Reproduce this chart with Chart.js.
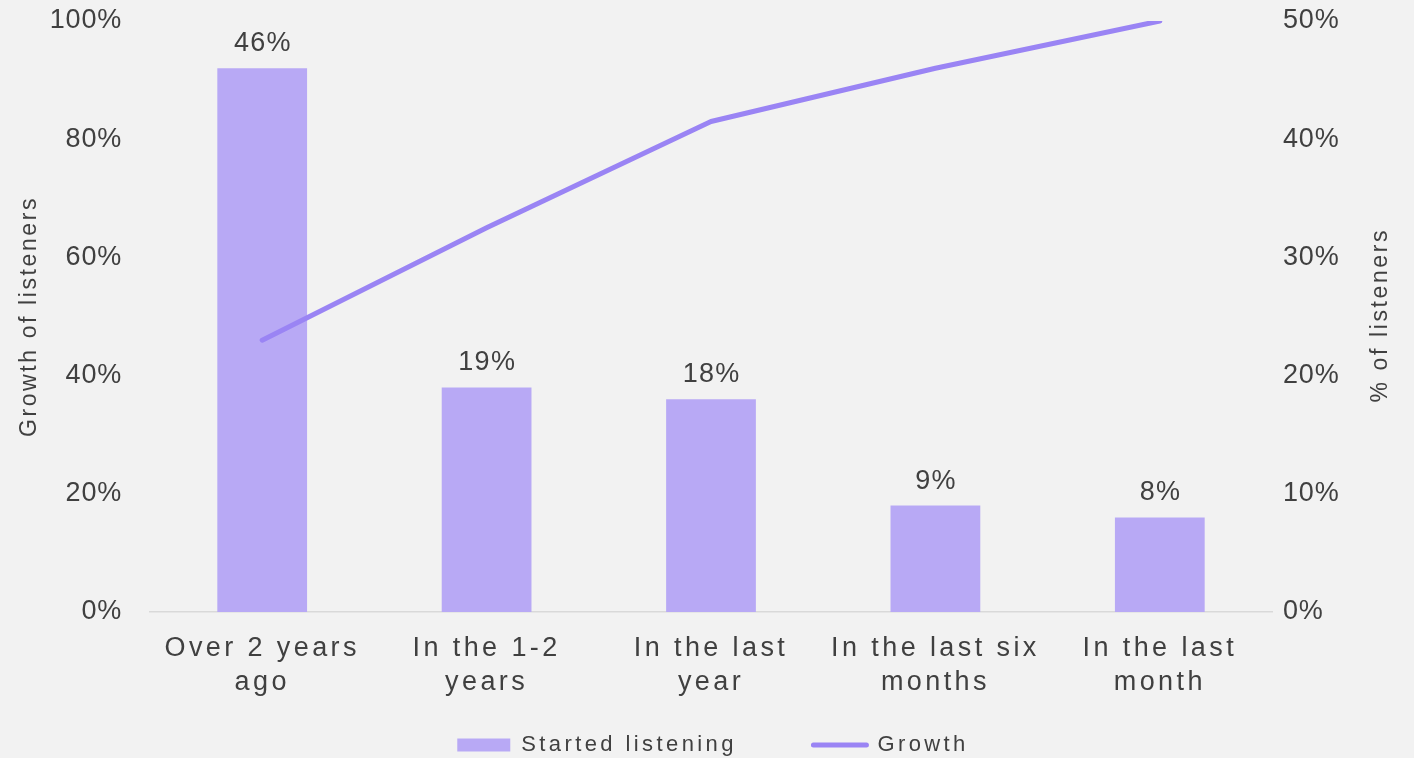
<!DOCTYPE html>
<html>
<head>
<meta charset="utf-8">
<script src="https://cdn.jsdelivr.net/npm/chart.js@4/dist/chart.umd.min.js"></script>
<style>
  html, body { margin: 0; padding: 0; background: #f2f2f2; }
  #wrap { width: 1414px; height: 758px; position: relative; }
</style>
</head>
<body>
<div id="wrap"><canvas id="c"></canvas></div>
<script>
const categories = [["Over 2 years", "ago"], ["In the 1-2", "years"], ["In the last", "year"], ["In the last six", "months"], ["In the last", "month"]];
const startedListening = [46, 19, 18, 9, 8];
const growth = [46, 65, 83, 92, 100];
const seriesNames = ["Started listening", "Growth"];
const leftAxisTitle = "Growth of listeners";
const rightAxisTitle = "% of listeners";

const FAMILY = '"Liberation Sans", Arial, sans-serif';
const TEXT = '#404040';
const BAR = '#b8a9f5';
const LINE = '#9a84f4';

function withSpacing(ctx, sp, fn) {
  const prev = ctx.letterSpacing;
  ctx.letterSpacing = sp;
  try { fn(); } finally { ctx.letterSpacing = prev; }
}

const spacingPlugin = {
  id: 'spacing',
  beforeUpdate(chart) { chart.ctx.letterSpacing = '3.4px'; },
  beforeLayout(chart) { chart.ctx.letterSpacing = '3.4px'; },
  afterLayout(chart) {
    if (chart.legend) {
      chart.legend.top += 8; chart.legend.bottom += 8;
      chart.legend.left += 6; chart.legend.right += 6;
    }
  },
  beforeDraw(chart) {
    chart.ctx.letterSpacing = '3.4px';
    ['yL', 'yR'].forEach(id => {
      const s = chart.scales[id];
      if (s && !s._patched) {
        const dl = s.drawLabels, dt = s.drawTitle;
        s.drawLabels = function (a) { withSpacing(chart.ctx, '0.8px', () => dl.call(this, a)); };
        s.drawTitle = function (a) { withSpacing(chart.ctx, '2.6px', () => dt.call(this, a)); };
        s._patched = true;
      }
    });
  }
};

const labelsPlugin = {
  id: 'barLabels',
  afterDatasetsDraw(chart) {
    const ctx = chart.ctx;
    const meta = chart.getDatasetMeta(0);
    ctx.save();
    ctx.font = '27px ' + FAMILY;
    ctx.fillStyle = TEXT;
    ctx.textAlign = 'center';
    ctx.textBaseline = 'alphabetic';
    ctx.letterSpacing = '1.3px';
    meta.data.forEach((el, i) => {
      ctx.fillText(startedListening[i] + '%', el.x + 0.65, el.y - 17);
    });
    ctx.restore();
    // right axis title, reading bottom-to-top
    const yR = chart.scales.yR;
    ctx.save();
    ctx.font = '23px ' + FAMILY;
    ctx.fillStyle = TEXT;
    ctx.letterSpacing = '2.6px';
    ctx.textAlign = 'center';
    ctx.textBaseline = 'middle';
    ctx.translate(yR.right - 33, (yR.top + yR.bottom) / 2);
    ctx.rotate(-Math.PI / 2);
    ctx.fillText(rightAxisTitle, 1.3, 0);
    ctx.restore();
  }
};

function fixY(width) {
  return function (s) { s.width = width; s.paddingTop = 0; s.paddingBottom = 0; };
}

new Chart(document.getElementById('c'), {
  data: {
    labels: categories,
    datasets: [
      {
        type: 'bar', label: seriesNames[0], data: startedListening, yAxisID: 'yR',
        backgroundColor: BAR, borderWidth: 0, categoryPercentage: 1, barPercentage: 0.4, order: 2
      },
      {
        type: 'line', label: seriesNames[1], data: growth, yAxisID: 'yL',
        borderColor: LINE, backgroundColor: LINE, borderWidth: 5, pointRadius: 0, tension: 0,
        borderCapStyle: 'round', borderJoinStyle: 'round', order: 1
      }
    ]
  },
  options: {
    responsive: true,
    maintainAspectRatio: false,
    animation: false,
    devicePixelRatio: 1,
    layout: { padding: { top: 21, left: 0, right: 0, bottom: 0 } },
    plugins: {
      tooltip: { enabled: false },
      legend: {
        position: 'bottom',
        labels: {
          font: { size: 22, family: FAMILY },
          color: TEXT,
          usePointStyle: true,
          pointStyleWidth: 53,
          boxWidth: 53,
          boxHeight: 13,
          padding: 10,
          generateLabels(chart) {
            const items = Chart.defaults.plugins.legend.labels.generateLabels(chart);
            items.sort((a, b) => a.datasetIndex - b.datasetIndex);
            items.forEach(it => {
              if (it.datasetIndex === 0) {
                it.pointStyle = 'rect'; it.fillStyle = BAR; it.strokeStyle = BAR; it.lineWidth = 0;
                it.text = it.text + '       ';
              } else {
                it.pointStyle = 'line'; it.strokeStyle = LINE; it.fillStyle = LINE; it.lineWidth = 5; it.lineCap = 'round';
              }
            });
            return items;
          }
        }
      }
    },
    scales: {
      x: {
        type: 'category',
        offset: true,
        grid: { display: false, drawTicks: false },
        border: { display: true, color: '#d9d9d9', width: 1.5 },
        ticks: { font: { size: 27, family: FAMILY, lineHeight: 1.25 }, color: TEXT, padding: 20, maxRotation: 0, autoSkip: false },
        afterFit(s) { s.height = 104; }
      },
      yL: {
        type: 'linear', position: 'left', min: 0, max: 100,
        grid: { display: false, drawTicks: false },
        border: { display: false },
        ticks: { stepSize: 20, callback: v => v + '%', padding: 28, font: { size: 27, family: FAMILY }, color: TEXT },
        title: { display: true, text: leftAxisTitle, color: TEXT, font: { size: 23, family: FAMILY }, padding: { top: 16, bottom: 0 } },
        afterFit: fixY(150)
      },
      yR: {
        type: 'linear', position: 'right', min: 0, max: 50,
        grid: { display: false, drawTicks: false },
        border: { display: false },
        ticks: { stepSize: 10, callback: v => v + '%', padding: 11, font: { size: 27, family: FAMILY }, color: TEXT },
        afterFit: fixY(142)
      }
    }
  },
  plugins: [spacingPlugin, labelsPlugin]
});
</script>
</body>
</html>
